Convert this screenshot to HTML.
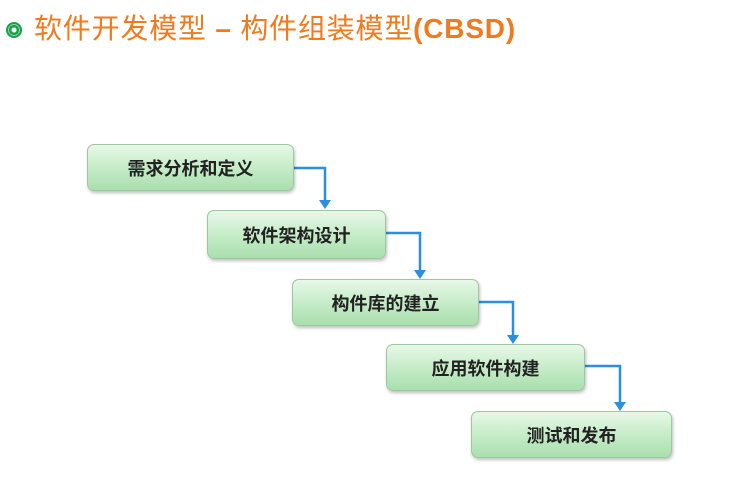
<!DOCTYPE html>
<html><head><meta charset="utf-8"><style>
body{margin:0;width:736px;height:481px;background:#fff;position:relative;overflow:hidden;font-family:"Liberation Sans","Noto Sans CJK SC",sans-serif}
.t{position:absolute;left:34px;top:7px;font-size:28px;color:#f07a1c;white-space:nowrap;letter-spacing:0.8px}
.t b{font-weight:bold}
.ic{position:absolute;left:6px;top:22px;width:16px;height:16px;border-radius:50%;background:radial-gradient(circle,#fff 0 2px,#1aa04a 3px 5px,#8fd6a0 5px 6px,#1aa04a 6px)}
.b{position:absolute;border:1px solid #9fc79f;border-radius:7px;background:linear-gradient(#e8f8e8,#c6ecc8 50%,#a9dfad);box-shadow:1px 2px 3px rgba(0,0,0,.25);display:flex;align-items:center;justify-content:center;font-size:18px;font-weight:bold;color:#222}
</style></head><body>
<div class="ic"></div>
<div class="t">软件开发模型 <b>–</b> 构件组装模型<b>(CBSD)</b></div>
<svg width="736" height="481" style="position:absolute;left:0;top:0">
<g stroke="#2a8fe0" stroke-width="2.5" fill="none">
<path d="M293 168 H325 V202"/><path d="M385 233 H420 V272"/><path d="M478 302 H513 V337"/><path d="M584 366 H620 V404"/>
</g>
<g fill="#2a8fe0">
<path d="M319 200 h12 l-6 9z"/><path d="M414 270 h12 l-6 9z"/><path d="M507 335 h12 l-6 9z"/><path d="M614 402 h12 l-6 9z"/>
</g>
</svg>
<div class="b" style="left:87px;top:144px;width:205px;height:45px">需求分析和定义</div>
<div class="b" style="left:207px;top:210px;width:177px;height:47px">软件架构设计</div>
<div class="b" style="left:292px;top:279px;width:185px;height:45px">构件库的建立</div>
<div class="b" style="left:386px;top:344px;width:197px;height:45px">应用软件构建</div>
<div class="b" style="left:471px;top:411px;width:199px;height:45px">测试和发布</div>
</body></html>
